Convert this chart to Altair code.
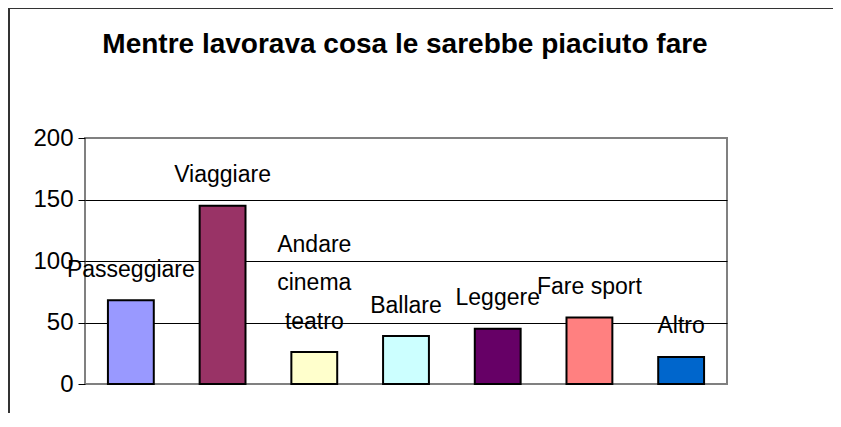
import altair as alt
import pandas as pd

categories = ["Passeggiare", "Viaggiare", "Andare cinema teatro", "Ballare",
              "Leggere", "Fare sport", "Altro"]
label_lines = [["Passeggiare"], ["Viaggiare"], ["Andare", "cinema", "teatro"], ["Ballare"],
               ["Leggere"], ["Fare sport"], ["Altro"]]
values = [68, 145, 26, 39, 45, 54, 22]
colors = ["#9999FF", "#993366", "#FFFFCC", "#CCFFFF", "#660066", "#FF8080", "#0066CC"]
y_ticks = [0, 50, 100, 150, 200]
title_text = "Mentre lavorava cosa le sarebbe piaciuto fare"

df = pd.DataFrame({"cat": categories, "value": values})

# one row per label line, k = line index counted from the bottom line
rows = []
for c, v, lines in zip(categories, values, label_lines):
    n = len(lines)
    for i, t in enumerate(lines):
        rows.append({"cat": c, "value": v, "line": t, "k": n - 1 - i})
lab_df = pd.DataFrame(rows)

W, H = 642, 246
PAD = {"left": 77, "top": 130, "right": 106, "bottom": 29}
LINE_H = 38.5
FONT = "Liberation Sans"

x = alt.X("cat:N", sort=categories, axis=None,
          scale=alt.Scale(paddingInner=0.5, paddingOuter=0.25))
y = alt.Y("value:Q", scale=alt.Scale(domain=[0, 200], nice=False),
          axis=alt.Axis(values=y_ticks, title=None, domain=False,
                        tickColor="black", tickSize=7, tickWidth=1,
                        labelFont=FONT, labelFontSize=24,
                        labelColor="black", labelPadding=5,
                        gridColor="black", gridWidth=1,
                        gridOpacity={"condition": {"test": "datum.value == 0 || datum.value == 200",
                                                   "value": 0}, "value": 1}))

bars = alt.Chart(df).mark_bar(stroke="black", strokeWidth=2).encode(
    x=x, y=y,
    color=alt.Color("cat:N", scale=alt.Scale(domain=categories, range=colors), legend=None),
)

label_layers = []
for k in range(3):
    label_layers.append(
        alt.Chart(lab_df).transform_filter(f"datum.k == {k}").mark_text(
            baseline="alphabetic", dy=-23.5 - k * LINE_H, fontSize=23, font=FONT,
            color="black"
        ).encode(x=x, y=y, text="line:N")
    )

one = pd.DataFrame({"t": [title_text]})
title = alt.Chart(one).mark_text(
    font=FONT, fontWeight="bold", fontSize=28, color="black",
    baseline="alphabetic", align="center"
).encode(x=alt.value(W / 2 - 1), y=alt.value(-84.7), text="t:N")

left_border = alt.Chart(one).mark_rule(color="#333333", strokeWidth=2).encode(
    x=alt.value(-76), y=alt.value(-130), y2=alt.value(H + PAD["bottom"])
)
top_border = alt.Chart(one).mark_rule(color="#333333", strokeWidth=2).encode(
    x=alt.value(-76), x2=alt.value(W + PAD["right"]), y=alt.value(-130)
)

chart = alt.layer(bars, *label_layers, title, left_border, top_border).properties(
    width=W, height=H,
    autosize=alt.AutoSizeParams(type="none"),
    padding=PAD,
).configure_view(stroke="#808080", strokeWidth=2)

chart.save("out.html", embed_options={"renderer": "svg", "actions": False})
